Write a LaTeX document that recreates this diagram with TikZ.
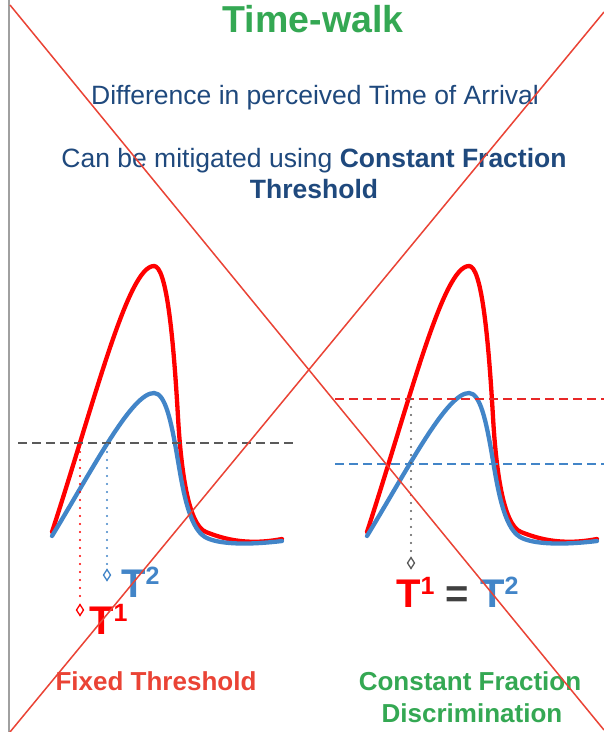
\documentclass[tikz,border=0pt]{standalone}
\usepackage{fontspec}
\setmainfont{Liberation Sans}
\usetikzlibrary{shapes.geometric}
\definecolor{tgreen}{RGB}{52,168,83}
\definecolor{navy}{RGB}{31,73,125}
\definecolor{xred}{RGB}{234,67,53}
\definecolor{cred}{RGB}{255,0,0}
\definecolor{dred}{RGB}{232,40,40}
\definecolor{cblue}{RGB}{66,133,200}
\definecolor{dgray}{RGB}{90,90,90}
\definecolor{eqgray}{RGB}{64,64,64}
\definecolor{lgray}{RGB}{160,160,160}
\newcommand\Tsup[1]{\raisebox{13pt}{\fontsize{25}{25}\selectfont #1}}
\begin{document}
\begin{tikzpicture}[x=1pt,y=-1pt,
  pulse/.style={line width=4.3pt, line join=round, line cap=round},
  thr/.style={line width=1.7pt, dash pattern=on 9pt off 5pt},
  drop/.style={line width=2.4pt, line cap=round, dash pattern=on 0pt off 8pt},
  tmark/.style={diamond, draw, fill=white, line width=1.3pt, minimum width=7.5pt, minimum height=11.5pt, inner sep=0pt},
  body/.style={inner sep=0pt, anchor=base, text=navy, font=\fontsize{26.5}{31}\selectfont},
  tlab/.style={inner sep=0pt, anchor=base west, font=\fontsize{40}{40}\selectfont\bfseries},
  caption/.style={inner sep=0pt, anchor=base, font=\fontsize{26}{31}\selectfont\bfseries},
  crossline/.style={xred, line width=1.5pt}
]
\useasboundingbox (0,0) rectangle (604,732);
\fill[white] (0,0) rectangle (604,732);
\draw[lgray, line width=2pt] (9,0) -- (9,732);

% texts
\node[inner sep=0pt, anchor=base, text=tgreen, font=\fontsize{37.5}{40}\selectfont\bfseries] (title) at (313,32) {Time-walk};
\node[body] (diff) at (315,104) {Difference in perceived Time of Arrival};
\node[body] (mit1) at (314,167) {Can be mitigated using \textbf{Constant Fraction}};
\node[body] (mit2) at (314,198) {\textbf{Threshold}};

% pulses
\foreach \s in {0,315} {
\begin{scope}[xshift=\s]
\draw[pulse, cred] (52,532) .. controls (95,400) and (128,266) .. (154,266)
  .. controls (166,266) and (173,330) .. (178,417)
  .. controls (181,469) and (188,525) .. (206,532)
  .. controls (222,538.2) and (245,546) .. (282,539);
\draw[pulse, cblue] (52,536) .. controls (95,465) and (132,393) .. (154,393)
  .. controls (165,393) and (171,420) .. (177,455)
  .. controls (182,484) and (188,527) .. (205,537)
  .. controls (215,543) and (240,546) .. (282,541);
\end{scope}
}

% thresholds
\coordinate (gA) at (18,443);
\coordinate (gB) at (293,443);
\draw[thr, dgray] (gA) -- (gB);
\coordinate (rA) at (335,399);
\coordinate (rB) at (604,399);
\draw[thr, dred] (rA) -- (rB);
\coordinate (bA) at (335,464);
\coordinate (bB) at (604,464);
\draw[thr, cblue] (bA) -- (bB);

% crossing points and drops
\coordinate (c1) at (80,444);
\coordinate (c2) at (107,444);
\coordinate (c3) at (411,399);
\node[tmark, draw=cred] (d1) at (80,610) {};
\node[tmark, draw=cblue] (d2) at (107,575) {};
\node[tmark, draw=dgray] (d3) at (411,563) {};
\draw[drop, cred] (c1) -- (d1.north);
\draw[drop, cblue] (c2) -- (d2.north);
\draw[drop, dgray] (c3) -- (d3.north);

% labels
\node[tlab, text=cblue] (t2) at (121,597) {T\Tsup{2}};
\node[tlab, text=cred] (t1) at (89,634) {T\Tsup{1}};
\node[tlab] (teq) at (396,607) {\textcolor{cred}{T\Tsup{1}} \textcolor{eqgray}{=} \textcolor{cblue}{T\Tsup{2}}};

\node[caption, text=xred] (fixed) at (156,690) {Fixed Threshold};
\node[caption, text=tgreen] (cfd1) at (470,690) {Constant Fraction};
\node[caption, text=tgreen] (cfd2) at (472,722) {Discrimination};

% cross-out
\coordinate (x1) at (10,5);
\coordinate (x2) at (604,730);
\coordinate (x3) at (604,12);
\coordinate (x4) at (10,732);
\draw[crossline] (x1) -- (x2);
\draw[crossline] (x3) -- (x4);
\end{tikzpicture}
\end{document}
